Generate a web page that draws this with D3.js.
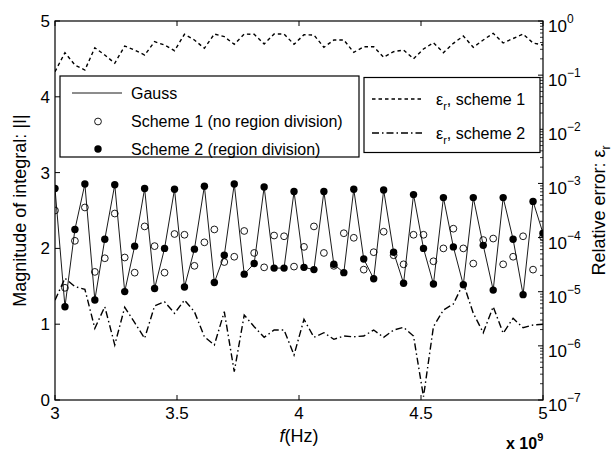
<!DOCTYPE html>
<html><head><meta charset="utf-8">
<script src="https://cdn.jsdelivr.net/npm/d3@7"></script>
<style>body{margin:0;background:#fff}svg{font-family:"Liberation Sans",Arial,sans-serif}</style>
</head><body><svg id="c" width="613" height="455"></svg>
<script>
const N = 50;
const freqStart = 3e9, freqEnd = 5e9;
const gauss = [2.79,1.23,2.25,2.85,1.32,2.12,2.84,1.43,2.03,2.79,1.47,2.00,2.78,1.49,1.99,2.82,1.55,1.91,2.85,1.66,1.80,2.81,1.74,1.74,2.75,1.75,1.72,2.75,1.79,1.68,2.78,1.86,1.60,2.77,1.95,1.54,2.71,2.00,1.53,2.67,2.02,1.52,2.67,2.04,1.45,2.67,2.12,1.39,2.62,2.20];
const scheme1 = [2.50,1.48,2.10,2.54,1.69,1.87,2.46,1.88,1.68,2.29,2.03,1.68,2.19,2.18,1.77,2.08,2.25,1.82,1.89,2.23,1.94,1.75,2.17,2.16,1.76,2.02,2.29,1.94,1.77,2.20,2.14,1.72,1.95,2.22,1.91,1.79,2.18,2.18,1.83,2.00,2.26,2.00,1.80,2.11,2.13,1.79,1.89,2.16,1.72,2.15];
const scheme2 = [2.79,1.23,2.25,2.85,1.32,2.12,2.84,1.43,2.03,2.79,1.47,2.00,2.78,1.49,1.99,2.82,1.55,1.91,2.85,1.66,1.80,2.81,1.74,1.74,2.75,1.75,1.72,2.75,1.79,1.68,2.78,1.86,1.60,2.77,1.95,1.54,2.71,2.00,1.53,2.67,2.02,1.52,2.67,2.04,1.45,2.67,2.12,1.39,2.62,2.20];
const err1 = [0.116,0.26,0.154,0.124,0.321,0.235,0.166,0.345,0.291,0.235,0.415,0.360,0.283,0.568,0.446,0.313,0.575,0.513,0.371,0.575,0.568,0.376,0.575,0.575,0.371,0.558,0.551,0.327,0.446,0.446,0.264,0.335,0.335,0.214,0.271,0.291,0.201,0.304,0.397,0.26,0.387,0.528,0.327,0.446,0.593,0.392,0.475,0.575,0.392,0.360];
const err2 = [7.0e-6,1.77e-5,1.24e-5,1.11e-5,2.11e-6,5.28e-6,1.04e-6,5.15e-6,2.68e-6,1.38e-6,5.45e-6,6.53e-6,3.99e-6,7.0e-6,4.27e-6,1.47e-6,1.04e-6,4.27e-6,3.33e-7,3.71e-6,2.26e-6,1.44e-6,1.96e-6,1.96e-6,6.78e-7,3.09e-6,1.44e-6,1.75e-6,1.32e-6,1.52e-6,1.47e-6,1.52e-6,1.96e-6,1.44e-6,1.96e-6,2.2e-6,1.52e-6,1.15e-7,2.26e-6,4.59e-6,5.93e-6,1.43e-5,3.99e-6,1.75e-6,5.28e-6,1.71e-6,3.23e-6,2.16e-6,2.43e-6,2.5e-6];
const xTicks = [3e9,3.5e9,4e9,4.5e9,5e9];
const xTickLabels = ["3","3.5","4","4.5","5"];
const yTicks = [0,1,2,3,4,5];
const y2Exps = [-7,-6,-5,-4,-3,-2,-1,0];
const legend1 = ["Gauss","Scheme 1 (no region division)","Scheme 2 (region division)"];
const freqs = d3.range(N).map(i => freqStart + (freqEnd - freqStart) * i / (N - 1));

const L = 55, R = 543, T = 21, B = 400;
const svg = d3.select("#c");
const x = d3.scaleLinear().domain([freqStart, freqEnd]).range([L, R]);
const y = d3.scaleLinear().domain([0, 5]).range([B, T]);
const y2 = d3.scaleLog().domain([1e-7, 1]).range([B, T]);
const FS = 17, AF = 18;

svg.append("rect").attr("x", L).attr("y", T).attr("width", R - L).attr("height", B - T)
  .attr("fill", "none").attr("stroke", "#000").attr("stroke-width", 1.2);

const g = svg.append("g");
xTicks.forEach((v, i) => {
  const px = x(v);
  g.append("line").attr("x1", px).attr("x2", px).attr("y1", B).attr("y2", B - 5).attr("stroke", "#000");
  g.append("line").attr("x1", px).attr("x2", px).attr("y1", T).attr("y2", T + 5).attr("stroke", "#000");
  g.append("text").attr("x", px).attr("y", B + 19).attr("text-anchor", "middle").attr("font-size", FS).text(xTickLabels[i]);
});
yTicks.forEach(v => {
  const py = y(v);
  g.append("line").attr("x1", L).attr("x2", L + 5).attr("y1", py).attr("y2", py).attr("stroke", "#000");
  g.append("text").attr("x", L - 5).attr("y", py + 6).attr("text-anchor", "end").attr("font-size", FS).text(v);
});
y2Exps.forEach(e => {
  const py = y2(Math.pow(10, e));
  g.append("line").attr("x1", R).attr("x2", R - 5).attr("y1", py).attr("y2", py).attr("stroke", "#000");
  const t = g.append("text").attr("x", R + 5).attr("y", py + 11).attr("font-size", FS);
  t.append("tspan").text("10");
  t.append("tspan").attr("dy", -9).attr("font-size", 12).text(e === 0 ? "0" : "\u2212" + (-e));
  if (e < 0) {
    for (let m = 2; m <= 9; m++) {
      const pm = y2(m * Math.pow(10, e));
      g.append("line").attr("x1", R).attr("x2", R - 3).attr("y1", pm).attr("y2", pm).attr("stroke", "#000").attr("stroke-width", 0.8);
    }
  }
});

svg.append("clipPath").attr("id", "cl").append("rect").attr("x", L).attr("y", T).attr("width", R - L).attr("height", B - T);
const plot = svg.append("g").attr("clip-path", "url(#cl)");
plot.append("path").datum(gauss).attr("fill", "none").attr("stroke", "#000").attr("stroke-width", 0.9)
  .attr("d", d3.line().x((d, i) => x(freqs[i])).y(d => y(d)));
plot.append("path").datum(err1).attr("fill", "none").attr("stroke", "#000").attr("stroke-width", 1.4).attr("stroke-dasharray", "3.5,3")
  .attr("d", d3.line().x((d, i) => x(freqs[i])).y(d => y2(d)));
plot.append("path").datum(err2).attr("fill", "none").attr("stroke", "#000").attr("stroke-width", 1.4).attr("stroke-dasharray", "7,3,1.5,3")
  .attr("d", d3.line().x((d, i) => x(freqs[i])).y(d => y2(d)));
plot.selectAll(".o").data(scheme1).enter().append("circle").attr("cx", (d, i) => x(freqs[i])).attr("cy", d => y(d))
  .attr("r", 3.4).attr("fill", "none").attr("stroke", "#000").attr("stroke-width", 0.9);
plot.selectAll(".f").data(scheme2).enter().append("circle").attr("cx", (d, i) => x(freqs[i])).attr("cy", d => y(d))
  .attr("r", 3.7).attr("fill", "#000");

const LF = 16;
svg.append("rect").attr("x", 60).attr("y", 76).attr("width", 299).attr("height", 81).attr("fill", "#fff").attr("stroke", "#000").attr("stroke-width", 1.2);
svg.append("line").attr("x1", 72).attr("x2", 122).attr("y1", 93).attr("y2", 93).attr("stroke", "#000").attr("stroke-width", 0.9);
svg.append("circle").attr("cx", 98).attr("cy", 121.5).attr("r", 3.4).attr("fill", "none").attr("stroke", "#000").attr("stroke-width", 0.9);
svg.append("circle").attr("cx", 98).attr("cy", 149).attr("r", 3.7).attr("fill", "#000");
legend1.forEach((s, i) => {
  svg.append("text").attr("x", 131).attr("y", 99 + i * 28).attr("font-size", LF).text(s);
});
svg.append("rect").attr("x", 364).attr("y", 77.5).attr("width", 176).attr("height", 75).attr("fill", "#fff").attr("stroke", "#000").attr("stroke-width", 1.2);
svg.append("line").attr("x1", 372).attr("x2", 422).attr("y1", 99).attr("y2", 99).attr("stroke", "#000").attr("stroke-width", 1.4).attr("stroke-dasharray", "3.5,3");
svg.append("line").attr("x1", 372).attr("x2", 422).attr("y1", 133).attr("y2", 133).attr("stroke", "#000").attr("stroke-width", 1.4).attr("stroke-dasharray", "7,3,1.5,3");
[["1", 105], ["2", 139]].forEach(([n, yy]) => {
  const t = svg.append("text").attr("x", 436).attr("y", yy).attr("font-size", LF);
  t.append("tspan").text("\u03b5");
  t.append("tspan").attr("dy", 5).attr("font-size", 11).text("r");
  t.append("tspan").attr("dy", -5).text(", scheme " + n);
});

svg.append("text").attr("transform", `translate(26,${(T + B) / 2}) rotate(-90)`).attr("text-anchor", "middle").attr("font-size", AF).text("Magnitude of integral: |I|");
const rt = svg.append("text").attr("transform", `translate(605,${(T + B) / 2}) rotate(-90)`).attr("text-anchor", "middle").attr("font-size", AF);
rt.append("tspan").text("Relative error: \u03b5");
rt.append("tspan").attr("dy", 5).attr("font-size", 12).text("r");
const xt = svg.append("text").attr("x", (L + R) / 2).attr("y", B + 42).attr("text-anchor", "middle").attr("font-size", AF);
xt.append("tspan").attr("font-style", "italic").text("f");
xt.append("tspan").text("(Hz)");
const ex = svg.append("text").attr("x", 506).attr("y", 449).attr("font-size", 16).attr("font-weight", "bold");
ex.append("tspan").text("x 10");
ex.append("tspan").attr("dy", -8).attr("font-size", 11).text("9");
</script></body></html>
